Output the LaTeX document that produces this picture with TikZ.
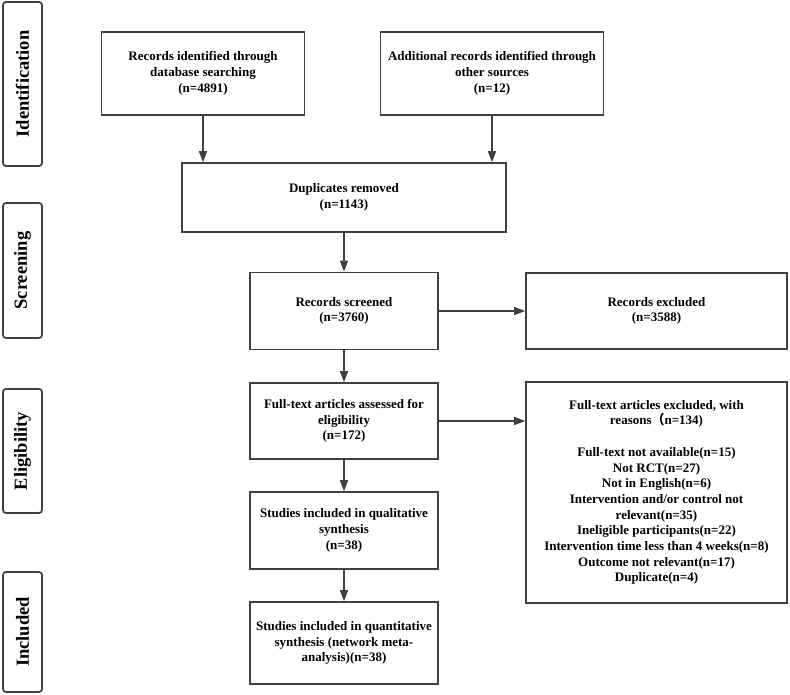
\documentclass[tikz,border=0pt]{standalone}
\usepackage{fontspec}
\setmainfont{Liberation Serif}
\newfontfamily\cjk{Noto Sans CJK SC}
\usepackage{tikz}
\usetikzlibrary{arrows.meta, positioning, calc}

\begin{document}
\begin{tikzpicture}[x=1pt, y=-1pt, font=\bfseries\fontsize{13}{15.7}\selectfont,
  box/.style={draw=black!75, line width=1.6pt, align=center, inner sep=2pt},
  phase/.style={draw=black!75, line width=1.7pt, rounded corners=3pt, rotate=90,
    minimum height=39pt, font=\bfseries\fontsize{18.5}{20}\selectfont},
  flow/.style={draw=black!75, line width=1.6pt, -{Triangle[length=11pt, width=8pt]}}]

  \useasboundingbox (0,0) rectangle (790,695);

  % phase labels on the left
  \node[phase, minimum width=164pt] (ident) at (22.5, 84)    {Identification};
  \node[phase, minimum width=135pt] (screen) at (22.5, 270.5) {Screening};
  \node[phase, minimum width=124pt] (elig) at (22.5, 451)     {Eligibility};
  \node[phase, minimum width=120pt] (incl) at (22.5, 632)     {Included};

  % identification
  \node[box, minimum width=203pt, minimum height=83pt] (db) at (203, 73.5)
        {Records identified through\\database searching\\(n=4891)};
  \node[box, minimum width=223pt, minimum height=83pt] (other) at (492, 73.5)
        {Additional records identified through\\other sources\\(n=12)};

  % screening
  \node[box, minimum width=324pt, minimum height=69pt] (dup) at (344, 197.5)
        {Duplicates removed\\(n=1143)};
  \node[box, minimum width=188pt, minimum height=77pt] (screened) at (344, 311)
        {Records screened\\(n=3760)};
  \node[box, minimum width=261pt, minimum height=76pt] (excl) at (656.5, 311)
        {Records excluded\\(n=3588)};

  % eligibility
  \node[box, minimum width=188pt, minimum height=76pt] (full) at (344, 421)
        {Full-text articles assessed for\\eligibility\\(n=172)};
  \node[box, minimum width=261pt, minimum height=221pt] (fullex) at (656.5, 492.5)
        {Full-text articles excluded, with\\reasons{\cjk （}n=134)\\[15.7pt]
         Full-text not available(n=15)\\Not RCT(n=27)\\Not in English(n=6)\\
         Intervention and/or control not\\relevant(n=35)\\
         Ineligible participants(n=22)\\Intervention time less than 4 weeks(n=8)\\
         Outcome not relevant(n=17)\\Duplicate(n=4)};

  % included
  \node[box, minimum width=188pt, minimum height=77pt] (qual) at (344, 530.5)
        {Studies included in qualitative\\synthesis\\(n=38)};
  \node[box, minimum width=188pt, minimum height=82pt] (quant) at (344, 643)
        {Studies included in quantitative\\synthesis (network meta-\\analysis)(n=38)};

  % connectors
  \draw[flow] (db.south) -- (db.south |- dup.north);
  \draw[flow] (other.south) -- (other.south |- dup.north);
  \draw[flow] (dup.south) -- (screened.north);
  \draw[flow] (screened.east) -- (excl.west);
  \draw[flow] (screened.south) -- (full.north);
  \draw[flow] (full.east) -- (full.east -| fullex.west);
  \draw[flow] (full.south) -- (qual.north);
  \draw[flow] (qual.south) -- (quant.north);

\end{tikzpicture}
\end{document}
